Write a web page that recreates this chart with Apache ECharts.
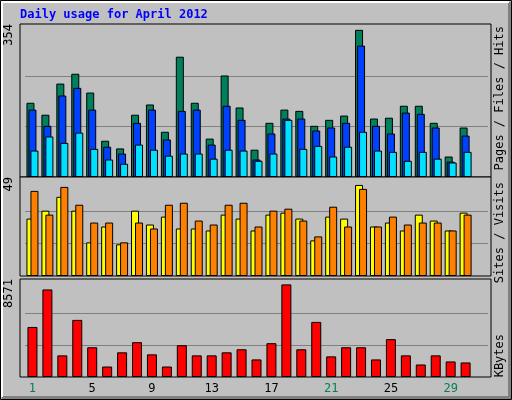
<!DOCTYPE html>
<html>
  <head>
    <meta charset="UTF-8" />
    <script src="https://cdn.jsdelivr.net/npm/echarts@6/dist/echarts.min.js"></script>
    <style>
      body { margin: 0; background: #c0c0c0; }
    </style>
  </head>
  <body>
    <div id="main"></div>
    <script>
      const width = 512;
      const height = 400;
      const main = document.getElementById('main');
      main.style.width = `${width}px`;
      main.style.height = `${height}px`;

      const days = Array.from({ length: 31 }, (_, i) => String(i + 1));
      const weekendDays = ['1', '7', '8', '14', '15', '21', '22', '28', '29'];
      const hits = [174, 146, 219, 242, 198, 85, 67, 146, 170, 106, 282, 174, 90, 238, 163, 64,
        127, 158, 155, 120, 134, 144, 345, 137, 139, 167, 167, 127, 48, 116, null];
      const files = [158, 120, 191, 209, 158, 71, 55, 127, 158, 88, 155, 158, 76, 167, 134, 41,
        102, 137, 137, 109, 116, 127, 308, 120, 102, 151, 148, 116, 36, 97, null];
      const pages = [62, 95, 80, 104, 66, 41, 31, 76, 64, 50, 55, 55, 43, 64, 62, 38,
        55, 134, 66, 73, 48, 71, 106, 62, 59, 38, 59, 43, 34, 59, null];
      const visits = [29, 33, 40, 33, 17, 25, 16, 33, 26, 30, 24, 24, 23, 31, 29, 23,
        31, 32, 29, 18, 30, 29, 46, 25, 27, 23, 31, 28, 23, 32, null];
      const sites = [43, 31, 45, 36, 27, 27, 17, 27, 24, 36, 37, 28, 26, 36, 37, 25,
        33, 34, 28, 20, 35, 25, 44, 25, 30, 26, 27, 27, 23, 31, null];
      const kbytes = [4467, 7817, 1932, 5100, 2656, 936, 2203, 3109, 2022, 936, 2837, 1932, 1932, 2203, 2475, 1569,
        3018, 8269, 2475, 4919, 1841, 2656, 2656, 1569, 3380, 1932, 1117, 1932, 1388, 1298, null];
      const maxLabels = [354, 49, 8571];

      const mono = '"DejaVu Sans Mono", "Liberation Mono", monospace';
      const panels = [
        { top: 26, bottom: 177 },
        { top: 179, bottom: 276 },
        { top: 281, bottom: 377 },
      ];

      const grids = panels.map((p) => ({
        left: 25, width: 463, top: p.top, height: p.bottom - p.top,
      }));

      const xAxes = panels.map((p, i) => ({
        type: 'category',
        gridIndex: i,
        data: days,
        axisLine: { show: false },
        axisTick: { show: false },
        axisLabel: i < 2 ? { show: false } : {
          fontFamily: mono,
          fontSize: 12,
          margin: 6,
          formatter: (v) => (weekendDays.includes(v) ? '{w|' + v + '}' : '{n|' + v + '}'),
          rich: {
            w: { color: '#00805c', fontFamily: mono, fontSize: 12 },
            n: { color: '#000', fontFamily: mono, fontSize: 12 },
          },
        },
      }));

      const yAxes = maxLabels.map((m, i) => ({
        type: 'value',
        gridIndex: i,
        min: 0,
        max: m,
        interval: m / 3,
        axisLabel: { show: false },
        axisLine: { show: false },
        axisTick: { show: false },
        splitLine: { lineStyle: { color: '#808080', width: 1 }, showMinLine: false, showMaxLine: false },
      }));

      const bar = (name, data, color, idx, w, gap) => ({
        name, type: 'bar', data, xAxisIndex: idx, yAxisIndex: idx,
        barWidth: w, barGap: gap,
        itemStyle: { color, borderColor: '#000', borderWidth: 1 },
        animation: false,
      });

      const panelFrames = panels.map((p) => ({
        type: 'rect',
        shape: { x: 20, y: p.top - 2, width: 471, height: p.bottom - p.top + 2 },
        style: { fill: '#c0c0c0', stroke: '#000', lineWidth: 1 },
        z: -10,
      }));

      const vText = (x, y, rich, text) => ({
        type: 'text', x, y, rotation: Math.PI / 2,
        style: { text, rich, font: '12px ' + mono, align: 'right', verticalAlign: 'middle' },
      });

      const chart = echarts.init(main);
      chart.setOption({
        backgroundColor: '#c0c0c0',
        animation: false,
        grid: grids,
        xAxis: xAxes,
        yAxis: yAxes,
        series: [
          bar('Hits', hits, '#00805c', 0, 8, '-75%'),
          bar('Files', files, '#0040ff', 0, 8, '-75%'),
          bar('Pages', pages, '#00e0ff', 0, 8, '-75%'),
          bar('Visits', visits, '#ffff00', 1, 8, '-50%'),
          bar('Sites', sites, '#ff8000', 1, 8, '-50%'),
          bar('KBytes', kbytes, '#ff0000', 2, 10, '0%'),
        ],
        graphic: [
          { type: 'rect', shape: { x: 0.5, y: 0.5, width: 511, height: 399 }, style: { fill: 'none', stroke: '#000' }, z: -20 },
          { type: 'rect', shape: { x: 2, y: 396, width: 509, height: 3 }, style: { fill: '#808080' }, z: -20 },
          { type: 'rect', shape: { x: 508, y: 2, width: 3, height: 396 }, style: { fill: '#808080' }, z: -20 },
          { type: 'rect', shape: { x: 1, y: 1, width: 2, height: 396 }, style: { fill: '#fff' }, z: -20 },
          { type: 'rect', shape: { x: 1, y: 1, width: 508, height: 2 }, style: { fill: '#fff' }, z: -20 },
          ...panelFrames,
          { type: 'text', x: 20, y: 9, style: { text: 'Daily usage for April 2012', font: 'bold 12px ' + mono, fill: '#0000ff' } },
          ...maxLabels.map((m, i) => ({
            type: 'text', x: 9, y: panels[i].top - 2, rotation: Math.PI / 2,
            style: { text: String(m), font: '12px ' + mono, fill: '#000', align: 'right', verticalAlign: 'middle' },
          })),
          vText(500, 26, {
            h: { color: '#00805c' }, s: { color: '#000' }, f: { color: '#0040ff' }, p: { color: '#00e0ff' },
          }, '{p|Pages}{s| / }{f|Files}{s| / }{h|Hits}'),
          vText(500, 182, {
            v: { color: '#ffff00' }, s: { color: '#000' }, t: { color: '#ff8000' },
          }, '{t|Sites}{s| / }{v|Visits}'),
          vText(500, 334, { k: { color: '#ff0000' } }, '{k|KBytes}'),
        ],
      });
    </script>
  </body>
</html>
